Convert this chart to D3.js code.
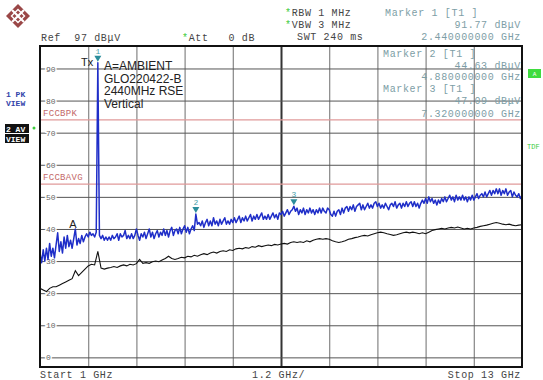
<!DOCTYPE html>
<html>
<head>
<meta charset="utf-8">
<script src="https://cdn.jsdelivr.net/npm/d3@7"></script>
<style>
  html, body { margin: 0; padding: 0; background: #fff; }
  svg { display: block; }
  text { white-space: pre; }
  .mono { font-family: "Liberation Mono", "DejaVu Sans Mono", monospace; }
  .sans { font-family: "Liberation Sans", Arial, sans-serif; }
</style>
</head>
<body>
<div id="chart"></div>
<script>
// sweep settings
const freqStart = 1;
const freqStop = 13;
const pkStep = 0.04;
const avStep = 0.08;

// trace 1: peak (blue), dBuV
const pkValues = [
  32.5, 29.5, 33.5, 30.0, 34.0, 30.5, 35.5, 31.5, 34.0, 31.0,
  35.0, 38.8, 33.0, 36.0, 32.5, 37.5, 34.0, 38.0, 34.5, 36.5,
  34.0, 37.0, 40.0, 35.0, 37.0, 35.5, 38.0, 36.0, 37.5, 38.5,
  37.5, 39.0, 38.0, 38.5, 37.5, 39.0, 91.77, 38.0, 37.0, 38.0,
  36.5, 37.5, 36.5, 37.5, 36.5, 38.0, 37.0, 37.5, 38.5, 36.5,
  38.5, 37.5, 38.0, 39.5, 37.0, 38.0, 37.0, 38.5, 37.0, 38.0,
  40.0, 38.0, 36.5, 38.5, 37.5, 39.0, 37.0, 38.5, 40.0, 37.5,
  39.0, 37.0, 38.5, 39.5, 37.5, 39.0, 38.0, 40.0, 38.0, 39.5,
  37.5, 39.5, 40.5, 38.0, 39.5, 40.0, 38.5, 40.5, 38.5, 40.0,
  41.0, 39.0, 40.5, 38.5, 40.0, 41.0, 39.5, 44.63, 41.5, 42.0,
  41.0, 42.5, 40.5, 42.0, 43.0, 41.0, 42.5, 41.0, 43.5, 41.5,
  42.5, 41.0, 43.0, 41.5, 42.5, 43.5, 41.5, 42.5, 41.5, 43.0,
  42.0, 43.5, 42.0, 43.0, 44.0, 42.0, 43.5, 42.5, 44.0, 42.5,
  43.5, 44.5, 42.5, 44.0, 43.0, 44.5, 43.0, 44.0, 45.0, 43.0,
  44.0, 43.0, 44.5, 43.0, 44.0, 45.0, 43.5, 44.5, 43.0, 45.0,
  44.5, 45.5, 44.0, 45.0, 46.0, 44.5, 45.5, 46.0, 47.09, 45.5,
  46.5, 44.5, 46.0, 45.0, 46.5, 44.5, 46.0, 45.0, 46.5, 45.0,
  46.0, 44.5, 46.0, 45.0, 46.5, 45.0, 46.5, 45.5, 45.0, 46.5,
  46.0, 44.5, 44.0, 45.5, 44.0, 45.5, 46.0, 44.5, 46.5, 45.0,
  46.5, 47.0, 45.5, 47.0, 46.0, 47.5, 45.5, 47.0, 47.5, 48.0,
  46.0, 47.5, 46.0, 47.0, 48.0, 46.5, 47.5, 46.5, 48.0, 48.5,
  47.0, 48.0, 46.5, 47.5, 46.5, 48.0, 47.0, 46.0, 47.5, 48.0,
  47.0, 48.5, 46.5, 47.5, 48.0, 46.5, 48.0, 47.0, 48.5, 47.0,
  48.0, 48.5, 47.0, 48.5, 47.0, 48.0, 46.5, 48.0, 49.0, 48.0,
  49.5, 48.0, 50.0, 48.5, 49.5, 48.0, 49.0, 47.5, 49.0, 48.0,
  49.5, 48.5, 50.0, 48.5, 49.5, 50.5, 49.0, 50.0, 48.5, 50.5,
  49.0, 50.0, 49.0, 50.5, 49.0, 50.0, 48.5, 50.0, 49.0, 50.5,
  49.0, 50.0, 51.0, 49.5, 50.5, 51.0, 50.0, 51.5, 50.0, 51.0,
  52.0, 50.5, 52.0, 51.0, 52.5, 51.0, 52.5, 50.5, 52.0, 51.0,
  52.5, 50.5, 51.5, 52.0, 50.0, 51.5, 50.5, 50.0, 51.0, 49.5,
  50.5
];

// trace 2: average (black), dBuV
const avValues = [
  21.5, 21.0, 20.5, 21.5, 22.0, 22.0, 22.5, 23.0, 23.5, 24.0,
  24.5, 27.0, 25.5, 26.5, 27.5, 28.5, 29.0, 28.8, 33.0, 27.8,
  27.5, 27.8, 28.0, 28.3, 28.0, 28.5, 28.8, 28.5, 29.0, 28.8,
  29.2, 30.5, 29.3, 29.5, 29.3, 29.8, 30.0, 29.8, 30.3, 30.8,
  31.5, 30.8, 30.5, 30.8, 31.2, 31.0, 31.5, 31.3, 31.8, 31.5,
  32.0, 32.3, 32.0, 32.5, 32.8, 32.5, 33.0, 33.2, 33.0, 33.5,
  33.3, 33.8, 34.0, 33.8, 34.2, 34.0, 34.5, 34.3, 34.8, 34.5,
  34.8, 35.0, 34.8, 35.2, 35.0, 35.3, 35.5, 35.3, 35.8, 36.0,
  35.8, 36.0, 35.8, 36.3, 36.0, 36.5, 36.8, 37.0, 36.8, 37.0,
  36.8, 36.3, 36.0, 35.8, 36.0, 36.3, 36.8, 37.0, 37.3, 37.5,
  37.8, 38.0, 37.8, 38.2, 38.5, 38.8, 39.0, 38.8, 38.5, 38.3,
  38.0, 38.2, 38.5, 38.8, 39.0, 38.8, 39.0, 38.8, 38.5, 38.8,
  38.5, 39.0, 39.5, 39.8, 40.0, 40.2, 40.0, 40.3, 40.5, 40.3,
  40.6, 40.3, 40.0, 40.2, 40.0, 40.3, 40.5, 40.8, 41.0, 41.2,
  41.5, 41.8, 42.0, 41.8, 41.5, 41.3, 41.5, 41.2, 41.0, 41.2,
  41.3
];

const levelTicks = [0, 10, 20, 30, 40, 50, 60, 70, 80, 90];
const gridFreqs = [1, 2.2, 3.4, 4.6, 5.8, 7, 8.2, 9.4, 10.6, 11.8, 13];

const limitNames = ['FCCBPK', 'FCCBAVG'];
const limitLevels = [74, 54];

const markerIds = ['1', '2', '3'];
const markerFreqs = [2.44, 4.88, 7.32];
const markerLevels = [91.77, 44.63, 47.09];

const noteLines = ['A=AMBIENT', 'GLO220422-B', '2440MHz RSE', 'Vertical'];

const width = 543, height = 380;
const plot = { left: 40, right: 522, top: 46, bottom: 367 };

const svg = d3.select('#chart').append('svg')
  .attr('width', width)
  .attr('height', height);

svg.append('rect').attr('width', width).attr('height', height).attr('fill', '#fff');

const x = d3.scaleLinear().domain([freqStart, freqStop]).range([plot.left, plot.right]);
const y = d3.scaleLinear().domain([-3, 97]).range([plot.bottom, plot.top]);

const markerText = '#7d9ea6';
const teal = '#2b8d9b';

// logo
const logo = svg.append('g').attr('transform', 'translate(18,16)');
logo.append('path')
  .attr('d', 'M0,-12 L12,0 L0,12 L-12,0 Z')
  .attr('fill', '#9a4747');
logo.append('path')
  .attr('d', 'M-6,-6 L6,6 M6,-6 L-6,6')
  .attr('stroke', '#fff').attr('stroke-width', 2.2);
logo.append('path')
  .attr('d', 'M0,-6.5 L6.5,0 L0,6.5 L-6.5,0 Z')
  .attr('fill', 'none').attr('stroke', '#fff').attr('stroke-width', 1.4);

// header
function mono(g, tx, ty, str, color, anchor) {
  return g.append('text')
    .attr('class', 'mono')
    .attr('x', tx).attr('y', ty)
    .attr('font-size', 10)
    .attr('letter-spacing', 0.65)
    .attr('fill', color || '#444')
    .attr('text-anchor', anchor || 'start')
    .text(str);
}

function starred(tx, ty, str) {
  const t = svg.append('text').attr('class', 'mono')
    .attr('x', tx).attr('y', ty).attr('font-size', 10).attr('letter-spacing', 0.65);
  t.append('tspan').attr('fill', '#3dcc3d').text('*');
  t.append('tspan').attr('fill', '#444').text(str);
}

starred(285, 16, 'RBW 1 MHz');
starred(285, 28, 'VBW 3 MHz');
mono(svg, 297, 40, 'SWT 240 ms');
mono(svg, 41, 41, 'Ref  97 dB\u03bcV');
starred(182, 41, 'Att   0 dB');

mono(svg, 385, 16, 'Marker 1 [T1 ]', markerText);
mono(svg, 521, 28, markerLevels[0].toFixed(2) + ' dB\u03bcV', markerText, 'end');
mono(svg, 521, 40, markerFreqs[0].toFixed(9) + ' GHz', markerText, 'end');

// left status labels
svg.append('text').attr('class', 'mono').attr('x', 6).attr('y', 97)
  .attr('font-size', 8).attr('font-weight', 'bold').attr('fill', '#3344aa').text('1 PK');
svg.append('text').attr('class', 'mono').attr('x', 6).attr('y', 106)
  .attr('font-size', 8).attr('font-weight', 'bold').attr('fill', '#3344aa').text('VIEW');
svg.append('rect').attr('x', 5).attr('y', 124).attr('width', 24).attr('height', 9).attr('fill', '#111');
svg.append('rect').attr('x', 5).attr('y', 134).attr('width', 24).attr('height', 9).attr('fill', '#111');
svg.append('text').attr('class', 'mono').attr('x', 6).attr('y', 131.5)
  .attr('font-size', 8).attr('font-weight', 'bold').attr('fill', '#fff').text('2 AV');
svg.append('text').attr('class', 'mono').attr('x', 6).attr('y', 141.5)
  .attr('font-size', 8).attr('font-weight', 'bold').attr('fill', '#fff').text('VIEW');
svg.append('circle').attr('cx', 34).attr('cy', 128).attr('r', 1.5).attr('fill', '#3dcc3d');

// right status
svg.append('rect').attr('x', 528).attr('y', 69).attr('width', 13).attr('height', 9).attr('fill', '#3fdc3f');
svg.append('text').attr('class', 'mono').attr('x', 534.5).attr('y', 76)
  .attr('font-size', 6).attr('text-anchor', 'middle').attr('fill', '#fff').text('A');
svg.append('text').attr('class', 'mono').attr('x', 527).attr('y', 149)
  .attr('font-size', 7).attr('fill', '#3dcc3d').text('TDF');

// grid
const g = svg.append('g');

g.append('g')
  .attr('transform', `translate(0,${plot.bottom})`)
  .call(d3.axisBottom(x).tickValues(gridFreqs.slice(1, -1)).tickSize(-(plot.bottom - plot.top)).tickFormat(''))
  .call(a => a.select('.domain').remove())
  .call(a => a.selectAll('line')
    .attr('stroke', d => d === 7 ? '#333' : '#858585')
    .attr('stroke-width', d => d === 7 ? 2 : 1.2));

const yAxis = g.append('g')
  .attr('transform', `translate(${plot.left},0)`)
  .call(d3.axisLeft(y).tickValues(levelTicks).tickSize(-(plot.right - plot.left)).tickPadding(0))
  .call(a => a.select('.domain').remove());
yAxis.selectAll('line').attr('stroke', '#555').attr('stroke-width', 1);
yAxis.selectAll('text')
  .attr('class', 'mono')
  .attr('x', 6).attr('dy', '0.32em')
  .attr('text-anchor', 'start')
  .attr('font-size', 8)
  .attr('fill', '#666')
  .attr('stroke', '#fff').attr('stroke-width', 3).attr('paint-order', 'stroke')
  .style('font-family', '"Liberation Mono", monospace');

// limit lines
limitLevels.forEach((lv, i) => {
  g.append('line')
    .attr('x1', plot.left).attr('x2', plot.right)
    .attr('y1', y(lv)).attr('y2', y(lv))
    .attr('stroke', '#e09a9a').attr('stroke-width', 1.2);
  g.append('text').attr('class', 'mono')
    .attr('x', 43).attr('y', y(lv) - 4)
    .attr('font-size', 9).attr('letter-spacing', 0.3)
    .attr('fill', '#c46a6a')
    .text(limitNames[i]);
});

// marker 2/3 readout inside plot
mono(svg, 383, 57, 'Marker 2 [T1 ]', markerText);
mono(svg, 521, 69, markerLevels[1].toFixed(2) + ' dB\u03bcV', markerText, 'end');
mono(svg, 521, 80, markerFreqs[1].toFixed(9) + ' GHz', markerText, 'end');
mono(svg, 383, 92, 'Marker 3 [T1 ]', markerText);
mono(svg, 521, 104, markerLevels[2].toFixed(2) + ' dB\u03bcV', markerText, 'end');
mono(svg, 521, 117, markerFreqs[2].toFixed(9) + ' GHz', markerText, 'end');

// traces
svg.append('clipPath').attr('id', 'clip')
  .append('rect').attr('x', plot.left).attr('y', plot.top)
  .attr('width', plot.right - plot.left).attr('height', plot.bottom - plot.top);

const line = step => d3.line()
  .x((d, i) => x(freqStart + i * step))
  .y(d => y(d));

svg.append('path')
  .datum(avValues)
  .attr('clip-path', 'url(#clip)')
  .attr('fill', 'none')
  .attr('stroke', '#111')
  .attr('stroke-width', 1.1)
  .attr('d', line(avStep));

svg.append('path')
  .datum(pkValues)
  .attr('clip-path', 'url(#clip)')
  .attr('fill', 'none')
  .attr('stroke', '#1f2ec8')
  .attr('stroke-width', 1.5)
  .attr('stroke-linejoin', 'round')
  .attr('d', line(pkStep));

// markers
markerIds.forEach((id, i) => {
  const mx = x(markerFreqs[i]), my = y(markerLevels[i]);
  svg.append('path')
    .attr('d', `M${mx - 3.5},${my - 7} L${mx + 3.5},${my - 7} L${mx},${my - 1} Z`)
    .attr('fill', teal);
  svg.append('text').attr('class', 'mono')
    .attr('x', mx).attr('y', my - 9)
    .attr('font-size', 8).attr('text-anchor', 'middle')
    .attr('fill', '#4aa0aa')
    .text(id);
});

// trace label and note
svg.append('text').attr('class', 'sans')
  .attr('x', 73).attr('y', 228).attr('font-size', 11).attr('text-anchor', 'middle')
  .attr('fill', '#222').text('A');

svg.append('text').attr('class', 'sans')
  .attr('x', 81).attr('y', 66).attr('font-size', 11).attr('fill', '#222').text('Tx');
noteLines.forEach((t, i) => {
  svg.append('text').attr('class', 'sans')
    .attr('x', 104).attr('y', 70 + i * 12.7)
    .attr('font-size', 12).attr('fill', '#222').text(t);
});

// frame
svg.append('rect')
  .attr('x', plot.left).attr('y', plot.top)
  .attr('width', plot.right - plot.left).attr('height', plot.bottom - plot.top)
  .attr('fill', 'none').attr('stroke', '#111').attr('stroke-width', 2);

// footer
mono(svg, 40, 378, 'Start 1 GHz');
mono(svg, 252, 378, ((gridFreqs[1] - gridFreqs[0]).toFixed(1)) + ' GHz/');
mono(svg, 521, 378, 'Stop 13 GHz', '#444', 'end');
</script>
</body>
</html>
